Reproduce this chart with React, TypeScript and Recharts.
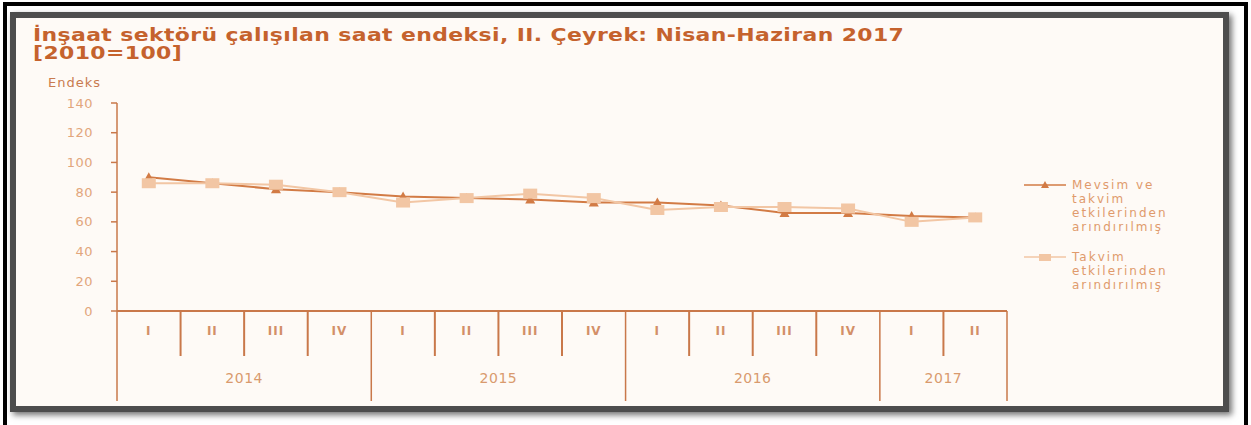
import React from "react";
import { LineChart, Line, XAxis, YAxis, Legend } from "recharts";

const quarters = ["I", "II", "III", "IV", "I", "II", "III", "IV", "I", "II", "III", "IV", "I", "II"];
const years = ["2014", "2014", "2014", "2014", "2015", "2015", "2015", "2015", "2016", "2016", "2016", "2016", "2017", "2017"];
// Mevsim ve takvim etkilerinden arındırılmış
const adjusted = [90, 86, 82, 80, 77, 76, 75, 73, 73, 71, 66, 66, 64, 63];
// Takvim etkilerinden arındırılmış
const calendarAdj = [86, 86, 85, 80, 73, 76, 79, 76, 68, 70, 70, 69, 60, 63];
const yTicks = [0, 20, 40, 60, 80, 100, 120, 140];

const data = quarters.map((q, i) => ({
  key: `${years[i]}-${q}`,
  quarter: q,
  year: years[i],
  adjusted: adjusted[i],
  calendarAdj: calendarAdj[i],
}));

const W = 1251;
const H = 425;
const Y_AXIS_W = 117;
const RIGHT = 244;
const PLOT_W = W - Y_AXIS_W - RIGHT;
const BAND = PLOT_W / data.length;

const AXIS = "#c9784a";
const LABEL = "#e2a67c";
const DARK = "#d27b45";
const LIGHT = "#f2c6a4";
const FONT = "'DejaVu Sans', sans-serif";

function QuarterTick(props: any) {
  const { x, y, payload } = props;
  const i = props.index ?? payload.index;
  const row = data[i];
  if (!row) return null;
  const first = i === 0 || data[i - 1].year !== row.year;
  const last = i === data.length - 1 || data[i + 1].year !== row.year;
  const count = data.filter((d) => d.year === row.year).length;
  return (
    <g>
      {i === 0 && (
        <line x1={x - BAND / 2} x2={x - BAND / 2} y1={y} y2={y + 90} stroke={AXIS} strokeWidth={1.5} />
      )}
      <line x1={x + BAND / 2} x2={x + BAND / 2} y1={y} y2={y + (last ? 90 : 45)} stroke={AXIS} strokeWidth={last ? 1.5 : 2} />
      <text x={x} y={y + 24} textAnchor="middle" fill="#d38f68" fontSize={12} fontWeight="bold" fontFamily={FONT} letterSpacing={1}>
        {row.quarter}
      </text>
      {first && (
        <text
          x={x - BAND / 2 + (count * BAND) / 2}
          y={y + 72}
          textAnchor="middle"
          fill="#d99a6e"
          fontSize={14}
          fontFamily={FONT}
          letterSpacing={0.5}
        >
          {row.year}
        </text>
      )}
    </g>
  );
}

const Triangle = (props: any) => {
  const { cx, cy } = props;
  if (cx == null || cy == null) return null;
  return <path d={`M${cx},${cy - 5} L${cx + 5},${cy + 4} L${cx - 5},${cy + 4} Z`} fill={DARK} />;
};

const Square = (props: any) => {
  const { cx, cy } = props;
  if (cx == null || cy == null) return null;
  return <rect x={cx - 7} y={cy - 5} width={14} height={10} fill={LIGHT} />;
};

const legendItems = [
  { lines: ["Mevsim ve", "takvim", "etkilerinden", "arındırılmış"], color: DARK, marker: "triangle" },
  { lines: ["Takvim", "etkilerinden", "arındırılmış"], color: LIGHT, marker: "square" },
];

function LegendContent() {
  return (
    <div style={{ fontFamily: FONT, fontSize: 12, color: "#e09a6c", letterSpacing: 2 }}>
      {legendItems.map((item, k) => (
        <div key={k} style={{ display: "flex", alignItems: "flex-start", marginBottom: 16 }}>
          <svg width={48} height={14} style={{ flexShrink: 0 }}>
            <line x1={2} x2={44} y1={7} y2={7} stroke={item.color} strokeWidth={1.5} />
            {item.marker === "triangle" ? (
              <path d="M23,3 L27,10 L19,10 Z" fill={item.color} />
            ) : (
              <rect x={17} y={4} width={12} height={7} fill={item.color} />
            )}
          </svg>
          <div style={{ lineHeight: "14px", marginLeft: 2, whiteSpace: "nowrap" }}>
            {item.lines.map((t) => (
              <div key={t}>{t}</div>
            ))}
          </div>
        </div>
      ))}
    </div>
  );
}

export default function App() {
  return (
    <div style={{ position: "fixed", left: 0, top: 0, width: W, height: H, background: "#fff", overflow: "hidden" }}>
      <div style={{ position: "absolute", left: 3, top: 2, width: 1237, height: 440, border: "4px solid #000" }} />
      <div
        style={{
          position: "absolute",
          left: 10,
          top: 12,
          width: 1207,
          height: 388,
          border: "6px solid #4d4d4d",
          background: "#fefaf6",
          boxShadow: "3px 3px 6px rgba(0,0,0,0.55)",
        }}
      />
      <div
        style={{
          position: "absolute",
          left: 33,
          top: 26,
          fontFamily: FONT,
          fontWeight: "bold",
          fontSize: 17,
          lineHeight: "18px",
          color: "#c5622d",
          letterSpacing: 0.3,
          transform: "scaleX(1.29)",
          transformOrigin: "left top",
          whiteSpace: "nowrap",
        }}
      >
        <div>İnşaat sektörü çalışılan saat endeksi, II. Çeyrek: Nisan-Haziran 2017</div>
        <div>[2010=100]</div>
      </div>
      <div
        style={{ position: "absolute", left: 48, top: 75, fontFamily: FONT, fontSize: 13, color: "#c97b4f", letterSpacing: 1 }}
      >
        Endeks
      </div>
      <div style={{ position: "absolute", left: 0, top: 0 }}>
        <LineChart width={W} height={H} data={data} margin={{ top: 103, right: RIGHT, bottom: 19, left: 0 }}>
          <XAxis
            dataKey="key"
            height={95}
            tickSize={0}
            tickMargin={0}
            interval={0}
            padding={{ left: BAND / 2, right: BAND / 2 }}
            axisLine={{ stroke: AXIS, strokeWidth: 2 }}
            tickLine={false}
            tick={<QuarterTick />}
          />
          <YAxis
            width={Y_AXIS_W}
            domain={[0, 140]}
            ticks={yTicks}
            interval={0}
            axisLine={{ stroke: AXIS, strokeWidth: 1.5 }}
            tickLine={{ stroke: AXIS, strokeWidth: 1.5 }}
            tickSize={6}
            tickMargin={18}
            tick={{ fill: LABEL, fontSize: 13, fontFamily: FONT, letterSpacing: 0.5 }}
          />
          <Legend
            layout="vertical"
            align="center"
            verticalAlign="middle"
            wrapperStyle={{ left: 1022, top: 178, width: 220 }}
            content={<LegendContent />}
          />
          <Line
            dataKey="adjusted"
            stroke={DARK}
            strokeWidth={2}
            dot={<Triangle />}
            activeDot={false}
            isAnimationActive={false}
          />
          <Line
            dataKey="calendarAdj"
            stroke={LIGHT}
            strokeWidth={2}
            dot={<Square />}
            activeDot={false}
            isAnimationActive={false}
          />
        </LineChart>
      </div>
    </div>
  );
}
